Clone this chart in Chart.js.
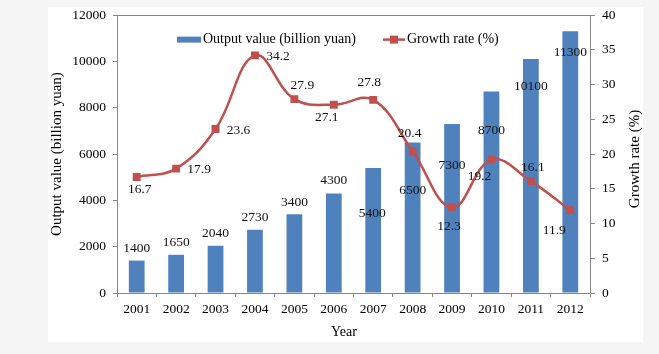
<!DOCTYPE html>
<html>
<head>
<meta charset="utf-8">
<script src="https://cdn.jsdelivr.net/npm/chart.js@4"></script>
<style>
  html, body { margin: 0; padding: 0; background: #f5f5f5; }
</style>
</head>
<body>
<canvas id="chart" width="659" height="354"></canvas>
<script>
// ---- Data ----
const years = ["2001","2002","2003","2004","2005","2006","2007","2008","2009","2010","2011","2012"];
const outputValue = [1400, 1650, 2040, 2730, 3400, 4300, 5400, 6500, 7300, 8700, 10100, 11300];
const growthRate  = [16.7, 17.9, 23.6, 34.2, 27.9, 27.1, 27.8, 20.4, 12.3, 19.2, 16.1, 11.9];
const outputTicks = [0, 2000, 4000, 6000, 8000, 10000, 12000];
const rateTicks   = [0, 5, 10, 15, 20, 25, 30, 35, 40];

// label nudges (dx, dy) from each mark, as placed in the original
const barLabelShift  = [[0,-12],[0,-12],[0,-12],[0,-12],[0,-12],[0,-13],[-1,46],[0,48],[0,42],[0,39],[0,27],[0,21]];
const rateLabelShift = [[3,12],[23,1],[23,1],[23,1],[8,-14],[-7,13],[-4,-17],[-3,-18],[-3,19],[-12,17],[2,-14],[-16,20]];

const SERIF = "'Liberation Serif', 'Times New Roman', serif";
const AXIS_GREY = "#878787";
const BLUE = "#4f81bd";
const RED  = "#c0504d";

// ---- Background, frame, axis titles ----
const frame = {
  id: "frame",
  beforeDraw(chart) {
    const { ctx } = chart;
    ctx.save();
    ctx.fillStyle = "#f5f5f5";
    ctx.fillRect(0, 0, chart.width, chart.height);
    ctx.fillStyle = "#ffffff";
    ctx.fillRect(48, 7, 595, 335);
    ctx.restore();
  },
  afterDraw(chart) {
    const { ctx, chartArea: a } = chart;
    ctx.save();
    ctx.strokeStyle = AXIS_GREY;
    ctx.lineWidth = 1;
    ctx.beginPath();
    ctx.moveTo(a.left, Math.round(a.top) + 0.5);
    ctx.lineTo(a.right, Math.round(a.top) + 0.5);
    ctx.stroke();

    ctx.fillStyle = "#000";
    ctx.textAlign = "center";
    ctx.textBaseline = "middle";
    // x title sits a little left of centre in the original
    ctx.font = "14px " + SERIF;
    ctx.fillText("Year", 344, 332);
    // right axis title, reading upwards
    ctx.font = "15px " + SERIF;
    ctx.translate(635, 159);
    ctx.rotate(-Math.PI / 2);
    ctx.fillText("Growth rate (%)", 0, 0);
    ctx.restore();
  }
};

// ---- Value labels ----
const valueLabels = {
  id: "valueLabels",
  afterDatasetsDraw(chart) {
    const { ctx } = chart;
    ctx.save();
    ctx.font = "13.5px " + SERIF;
    ctx.fillStyle = "#111";
    ctx.textAlign = "center";
    ctx.textBaseline = "middle";
    chart.getDatasetMeta(0).data.forEach((bar, i) => {
      const [dx, dy] = barLabelShift[i];
      ctx.fillText(String(outputValue[i]), bar.x + dx, bar.y + dy);
    });
    chart.getDatasetMeta(1).data.forEach((pt, i) => {
      const [dx, dy] = rateLabelShift[i];
      ctx.fillText(growthRate[i].toFixed(1), pt.x + dx, pt.y + dy);
    });
    ctx.restore();
  }
};

// ---- Legend inside the plot ----
const insideLegend = {
  id: "insideLegend",
  afterDraw(chart) {
    const { ctx, chartArea: a } = chart;
    const y = a.top + 24.5;
    ctx.save();
    ctx.font = "14px " + SERIF;
    ctx.fillStyle = BLUE;
    ctx.fillRect(a.left + 60, y - 3, 24, 6);
    ctx.fillStyle = "#000";
    ctx.textAlign = "left";
    ctx.textBaseline = "middle";
    ctx.fillText(chart.data.datasets[0].label, a.left + 86, y);

    ctx.strokeStyle = RED;
    ctx.lineWidth = 2.5;
    ctx.beginPath();
    ctx.moveTo(a.left + 266, y);
    ctx.lineTo(a.left + 288, y);
    ctx.stroke();
    ctx.fillStyle = RED;
    ctx.fillRect(a.left + 273, y - 4, 8, 8);
    ctx.fillStyle = "#000";
    ctx.fillText(chart.data.datasets[1].label, a.left + 290, y);
    ctx.restore();
  }
};

const tickFont = { family: SERIF, size: 13.5 };

new Chart(document.getElementById("chart"), {
  data: {
    labels: years,
    datasets: [
      {
        type: "bar",
        label: "Output value (billion yuan)",
        data: outputValue,
        backgroundColor: BLUE,
        barPercentage: 0.4,
        categoryPercentage: 1,
        yAxisID: "y",
        order: 2,
      },
      {
        type: "line",
        label: "Growth rate (%)",
        data: growthRate,
        borderColor: RED,
        backgroundColor: RED,
        borderWidth: 2.5,
        pointStyle: "rect",
        pointRadius: 5.6,
        pointBorderWidth: 0,
        tension: 0.4,
        yAxisID: "y1",
        order: 1,
      }
    ]
  },
  options: {
    responsive: false,
    animation: false,
    layout: { padding: { top: 14, left: 0, right: 0, bottom: 0 } },
    plugins: { legend: { display: false }, tooltip: { enabled: false } },
    scales: {
      x: {
        grid: { offset: true, drawOnChartArea: false, tickLength: 4, color: AXIS_GREY },
        border: { color: AXIS_GREY },
        ticks: { color: "#000", font: tickFont, padding: 4 },
        afterFit: s => { s.height = 61; },
      },
      y: {
        position: "left",
        min: 0, max: 12000,
        afterBuildTicks: s => { s.ticks = outputTicks.map(v => ({ value: v })); },
        ticks: { color: "#000", font: tickFont, padding: 7, callback: v => String(v) },
        grid: { drawOnChartArea: false, tickLength: 4, color: AXIS_GREY },
        border: { color: AXIS_GREY },
        title: { display: true, text: "Output value (billion yuan)", color: "#000", font: { family: SERIF, size: 15 }, padding: { top: 48, bottom: 0 } },
        afterFit: s => { s.width = 117; },
      },
      y1: {
        position: "right",
        min: 0, max: 40,
        afterBuildTicks: s => { s.ticks = rateTicks.map(v => ({ value: v })); },
        ticks: { color: "#000", font: tickFont, padding: 7, callback: v => String(v) },
        grid: { drawOnChartArea: false, tickLength: 5, color: AXIS_GREY },
        border: { color: AXIS_GREY },
        afterFit: s => { s.width = 69; },
      }
    }
  },
  plugins: [frame, valueLabels, insideLegend]
});
</script>
</body>
</html>
